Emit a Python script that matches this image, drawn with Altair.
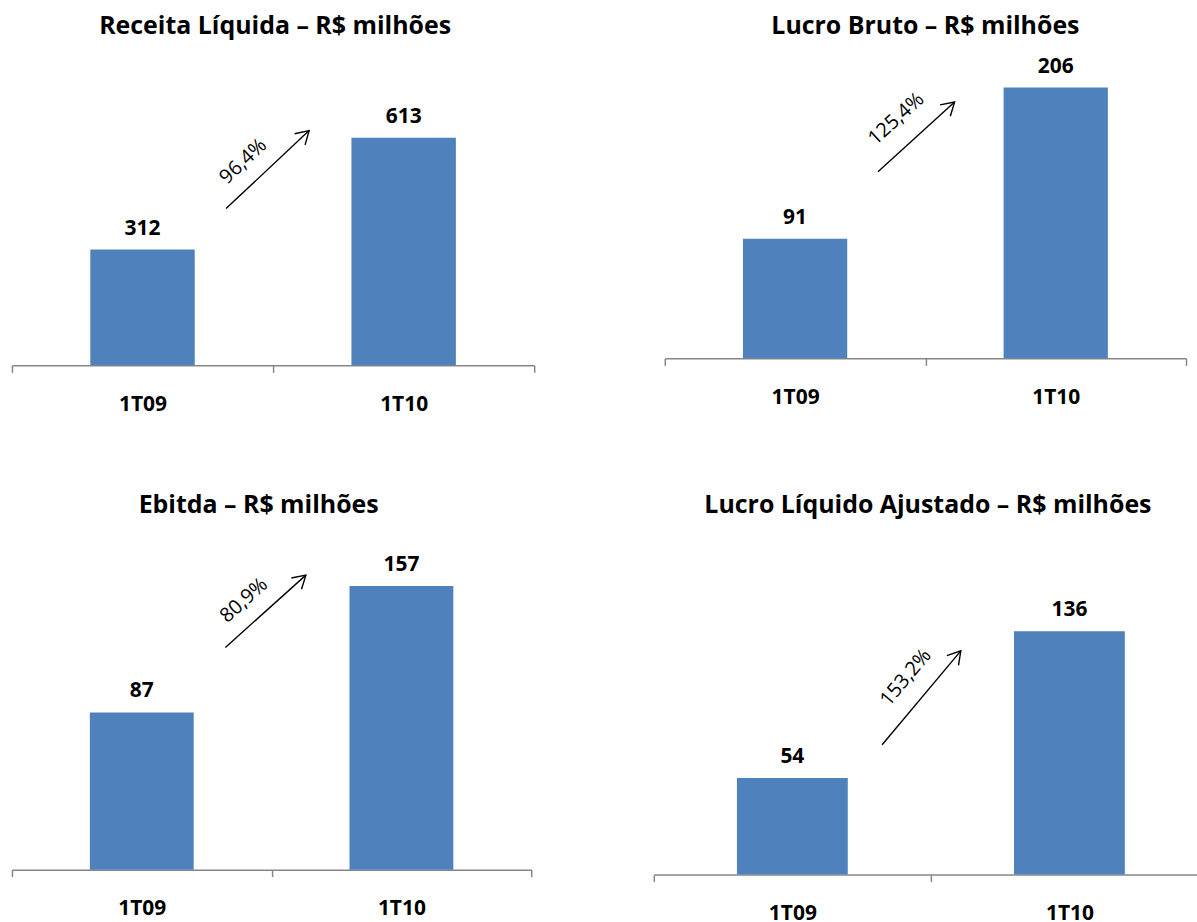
import math

import altair as alt
import pandas as pd

# ---- data -------------------------------------------------------------
periods = ["1T09", "1T10"]

titles = [
    "Receita Líquida – R$ milhões",
    "Lucro Bruto – R$ milhões",
    "Ebitda – R$ milhões",
    "Lucro Líquido Ajustado – R$ milhões",
]

receita_liquida = [312, 613]
lucro_bruto = [91, 206]
ebitda = [87, 157]
lucro_liquido_ajustado = [54, 136]

growth_labels = ["96,4%", "125,4%", "80,9%", "153,2%"]

series = [receita_liquida, lucro_bruto, ebitda, lucro_liquido_ajustado]

# ---- styling / layout -------------------------------------------------
BLUE = "#4F81BD"
AXIS_GREY = "#868686"
FONT = "Open Sans"

# plot size in px, top of the value scale, horizontal shift of the title
panel_layout = [
    dict(width=524, height=313, ymax=840, title_dx=2),
    dict(width=523, height=306, ymax=232, title_dx=0),
    dict(width=521, height=339, ymax=187, title_dx=-13),
    dict(width=556, height=344, ymax=191.5, title_dx=-3),
]

# growth arrow placement: x as a fraction of the panel width, y in R$ milhões
arrow_layout = [
    dict(x0=0.410, y0=422, x1=0.569, y1=632, tx=0.443, ty=549),
    dict(x0=0.409, y0=142, x1=0.556, y1=195, tx=0.444, ty=182),
    dict(x0=0.411, y0=123, x1=0.566, y1=163, tx=0.447, ty=149),
    dict(x0=0.412, y0=72.5, x1=0.554, y1=125, tx=0.455, ty=110),
]

# open chevron, apex at the symbol origin, pointing up before rotation
HEAD_PATH = "M-0.6,1L0,0L0.6,1"


def panel(i):
    lay = panel_layout[i]
    arr = arrow_layout[i]

    df = pd.DataFrame({"periodo": periods, "valor": series[i]})
    yscale = alt.Scale(domain=[0, lay["ymax"]], nice=False, zero=True)

    x_cat = alt.X(
        "periodo:N",
        sort=periods,
        title=None,
        scale=alt.Scale(paddingInner=0, paddingOuter=0),
        axis=alt.Axis(
            domainColor=AXIS_GREY,
            domainWidth=1.5,
            tickColor=AXIS_GREY,
            tickWidth=1.5,
            tickSize=7,
            tickBand="extent",
            labelFont=FONT,
            labelFontSize=21,
            labelFontWeight="bold",
            labelColor="black",
            labelPadding=21,
            labelAngle=0,
            grid=False,
        ),
    )
    y_val = alt.Y("valor:Q", scale=yscale, axis=None)

    bars = alt.Chart(df).mark_bar(
        color=BLUE, width=alt.RelativeBandSize(0.4)
    ).encode(x=x_cat, y=y_val)

    values_text = alt.Chart(df).mark_text(
        font=FONT, fontSize=21, fontWeight="bold", color="black",
        baseline="alphabetic", dy=-15,
    ).encode(x=x_cat, y=y_val, text="valor:Q")

    # arrow direction in pixels, used to rotate the head and the label
    dx_px = (arr["x1"] - arr["x0"]) * lay["width"]
    dy_px = (arr["y1"] - arr["y0"]) * lay["height"] / lay["ymax"]
    heading = math.degrees(math.atan2(dx_px, dy_px))
    text_angle = 360 - (90 - heading)

    ann = pd.DataFrame([{**arr, "label": growth_labels[i]}])
    xfrac = alt.Scale(domain=[0, 1], nice=False, zero=False)

    shaft = alt.Chart(ann).mark_rule(color="black", strokeWidth=1.4).encode(
        x=alt.X("x0:Q", scale=xfrac, axis=None),
        x2="x1:Q",
        y=alt.Y("y0:Q", scale=yscale, axis=None),
        y2="y1:Q",
    )
    head = alt.Chart(ann).mark_point(
        shape=HEAD_PATH, filled=False, size=650, color="black",
        strokeWidth=1.4, opacity=1, angle=heading,
    ).encode(
        x=alt.X("x1:Q", scale=xfrac, axis=None),
        y=alt.Y("y1:Q", scale=yscale, axis=None),
    )
    pct = alt.Chart(ann).mark_text(
        font=FONT, fontSize=20, color="black", angle=text_angle,
        align="center", baseline="middle",
    ).encode(
        x=alt.X("tx:Q", scale=xfrac, axis=None),
        y=alt.Y("ty:Q", scale=yscale, axis=None),
        text="label:N",
    )

    return (
        alt.layer(alt.layer(bars, values_text), alt.layer(shaft, head, pct))
        .resolve_scale(x="independent")
        .properties(
            width=lay["width"],
            height=lay["height"],
            title=alt.TitleParams(
                text=titles[i],
                font=FONT,
                fontSize=25,
                fontWeight="bold",
                color="black",
                anchor="middle",
                offset=14,
                dx=lay["title_dx"],
            ),
        )
    )


top_row = alt.hconcat(panel(0), panel(1), spacing=129)
bottom_row = alt.hconcat(panel(2), panel(3), spacing=121)

# the last panel runs past the right edge of the page
chart = (
    alt.vconcat(top_row, bottom_row, spacing=79)
    .properties(
        padding={"left": 11, "top": 13, "right": -12, "bottom": -2},
        background="white",
    )
    .configure_view(stroke=None)
)

chart.save("out.html", embed_options={"renderer": "svg", "actions": False})
